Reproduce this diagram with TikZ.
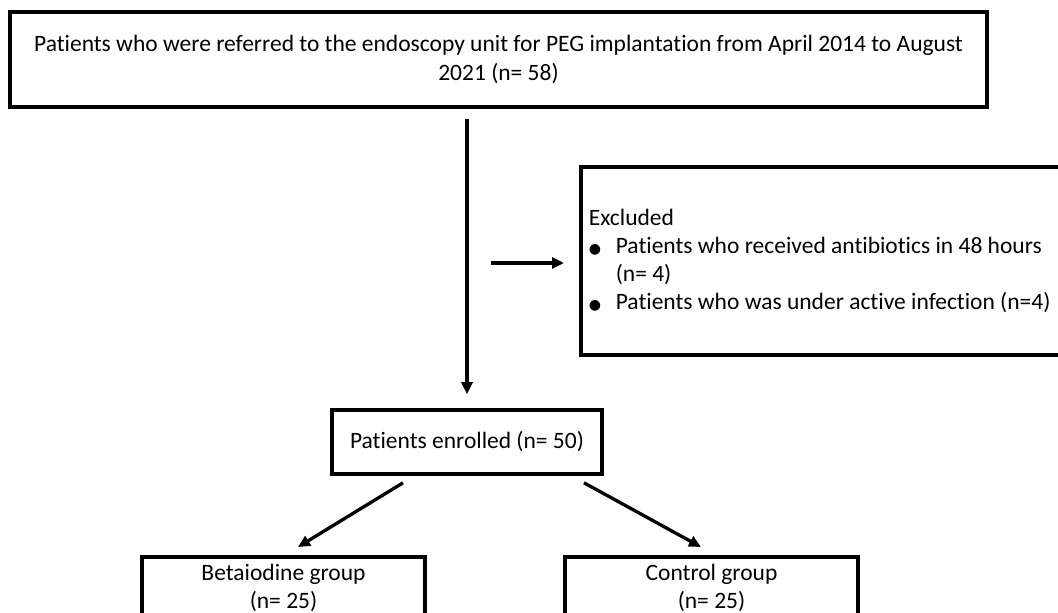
\documentclass[tikz,border=0pt]{standalone}
\usepackage{fontspec}
\setmainfont{Carlito}[Ligatures=NoCommon]
\newfontfamily\symfont{DejaVu Sans}
\usetikzlibrary{positioning, arrows.meta}
\newcommand{\blt}{\makebox[27pt][l]{\symfont\fontsize{14}{14}\selectfont ●}}

\begin{document}
\begin{tikzpicture}[x=1pt, y=-1pt, box/.style={draw, line width=3.6pt, inner sep=0pt, align=center, font=\fontsize{23.5}{28.5}\selectfont}, arrow/.style={-{Triangle[length=12pt, width=11pt]}, line width=3.3pt}]
  \clip (0,0) rectangle (1058,613);
  \node[box, minimum width=977pt, minimum height=95pt] (referred) at (498.5,59.5) {Patients who were referred to the endoscopy unit for PEG implantation from April 2014 to August\\2021 (n= 58)};
  \node[box, minimum width=270pt, minimum height=64pt] (enrolled) at (467,442) {Patients enrolled (n= 50)};
  \node[box, anchor=west, minimum width=520pt, minimum height=188pt, inner xsep=8pt, text width=504pt, align=flush left, font=\fontsize{23.5}{28}\selectfont] (excluded) at (579,261) {Excluded\\
    \blt Patients who received antibiotics in 48 hours\\
    \hspace*{27pt}(n= 4)\\
    \blt Patients who was under active infection (n=4)};
  \node[box, anchor=north, minimum width=283pt, inner ysep=7pt, text depth=60pt] (betaiodine) at (283.5,555) {Betaiodine group\\(n= 25)};
  \node[box, anchor=north, minimum width=293pt, inner ysep=7pt, text depth=60pt] (control) at (711.5,555) {Control group\\(n= 25)};
  \draw[arrow, shorten <=10pt, shorten >=14pt] (enrolled.north |- referred.south) -- (enrolled.north);
  \draw[arrow, shorten >=15pt] ([xshift=-88pt, yshift=-2pt]excluded.west) -- ([yshift=-2pt]excluded.west);
  \draw[arrow] ([xshift=-64pt, yshift=-7pt]enrolled.south) -- ([xshift=14.5pt, yshift=8pt]betaiodine.north);
  \draw[arrow] ([xshift=117pt, yshift=-7pt]enrolled.south) -- ([xshift=-10.5pt, yshift=8pt]control.north);
\end{tikzpicture}
\end{document}
